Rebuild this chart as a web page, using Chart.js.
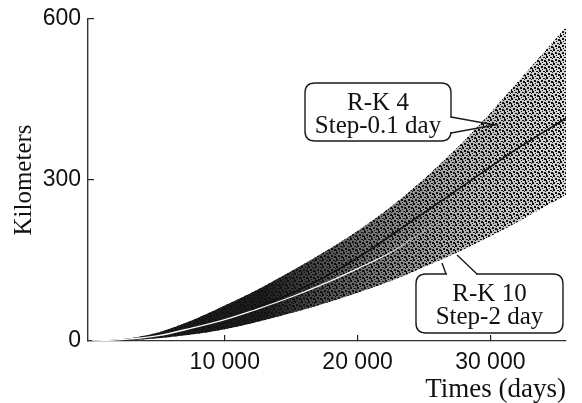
<!DOCTYPE html>
<html><head><meta charset="utf-8">
<script src="https://cdn.jsdelivr.net/npm/chart.js@4.4.1/dist/chart.umd.min.js"></script>
<style>html,body{margin:0;padding:0;background:#fff}#wrap{width:582px;height:403px}</style>
</head><body><div id="wrap"><canvas id="c" width="582" height="403"></canvas></div>
<script>
// ---- data ----
const bandDays = [0, 2500, 5000, 7500, 10000, 12500, 15000, 17500, 20000, 22500, 25000, 27500, 30000, 32500, 35700];
const upperKm  = [0, 4, 16, 38, 66, 96, 130, 166, 205, 250, 302, 360, 425, 495, 585];
const lowerKm  = [0, 1, 5, 12, 22, 36, 52, 70, 90, 112, 138, 165, 195, 228, 272];
const gapDays  = [0, 2500, 5000, 7500, 10000, 12500, 15000, 17500, 20000, 22500, 25000, 27000];
const gapKm    = [0, 3, 10, 24, 40, 60, 82, 107, 135, 165, 205, 238];
const centerDays = [12000, 16000, 20000, 24000, 28000, 32000, 35700];
const centerKm   = [58, 100, 155, 222, 290, 358, 415];
const xTickValues = [10000, 20000, 30000];
const yTickValues = [0, 300, 600];
const calloutTexts = [["R-K 4", "Step-0.1 day"], ["R-K 10", "Step-2 day"]];

const pts = (xs, ys) => xs.map((v, i) => ({x: v, y: ys[i]}));

// ---- callout geometry (in data units) ----
const callouts = [
  {text: calloutTexts[0], x0: 16043, x1: 27039, y0: 372.7, y1: 480.7,
   tail: 'wedge', a: [27039, 417.4], b: [27039, 387.6], tip: [30353, 402.5]},
  {text: calloutTexts[1], x0: 24402, x1: 35473, y0: 14.9, y1: 124.8,
   tail: 'lines', a: [26662, 124.8], b: [28997, 124.8], ea: [26361, 145.3], eb: [27491, 160.2]}
];

// stipple pattern for the band
const pc = document.createElement('canvas'); pc.width = 7; pc.height = 7;
const pctx = pc.getContext('2d'); pctx.fillStyle = '#111';
[[0,0,2,2],[4,1,2,1],[2,3,2,2],[5,4,2,2],[0,5,1,2],[3,6,1,1],[6,2,1,1]]
  .forEach(r => pctx.fillRect(...r));
const ctx = document.getElementById('c').getContext('2d');
const pattern = ctx.createPattern(pc, 'repeat');

function xGradient(chart, stops) {
  const xs = chart.scales.x;
  const g = chart.ctx.createLinearGradient(xs.getPixelForValue(0), 0, xs.getPixelForValue(35700), 0);
  stops.forEach(([o, c]) => g.addColorStop(o, c));
  return g;
}
function densityGradient(context) {
  const chart = context.chart;
  if (!chart.chartArea) return 'rgba(0,0,0,0)';
  return xGradient(chart, [[0, 'rgba(17,17,17,0.97)'], [0.36, 'rgba(17,17,17,0.95)'], [0.44, 'rgba(17,17,17,0.82)'],
    [0.61, 'rgba(17,17,17,0.55)'], [0.8, 'rgba(17,17,17,0.3)'], [1, 'rgba(17,17,17,0.16)']]);
}
function gapGradient(context) {
  const chart = context.chart;
  if (!chart.chartArea) return '#fff';
  return xGradient(chart, [[0, 'rgba(255,255,255,1)'], [0.6, 'rgba(255,255,255,0.95)'], [0.74, 'rgba(255,255,255,0)'], [1, 'rgba(255,255,255,0)']]);
}

function rr(c, x, y, w, h, r) {
  c.beginPath();
  c.moveTo(x + r, y); c.lineTo(x + w - r, y); c.quadraticCurveTo(x + w, y, x + w, y + r);
  c.lineTo(x + w, y + h - r); c.quadraticCurveTo(x + w, y + h, x + w - r, y + h);
  c.lineTo(x + r, y + h); c.quadraticCurveTo(x, y + h, x, y + h - r);
  c.lineTo(x, y + r); c.quadraticCurveTo(x, y, x + r, y); c.closePath();
}

const calloutPlugin = {
  id: 'callouts',
  afterDatasetsDraw(chart) {
    const c = chart.ctx, X = chart.scales.x, Y = chart.scales.y;
    const P = p => [X.getPixelForValue(p[0]), Y.getPixelForValue(p[1])];
    callouts.forEach(o => {
      const L = X.getPixelForValue(o.x0), R = X.getPixelForValue(o.x1);
      const T = Y.getPixelForValue(o.y1), B = Y.getPixelForValue(o.y0);
      c.save();
      c.lineWidth = 1.4; c.strokeStyle = '#1a1a1a'; c.fillStyle = '#fff';
      rr(c, L, T, R - L, B - T, 10); c.fill(); c.stroke();
      const a = P(o.a), b = P(o.b);
      if (o.tail === 'wedge') {
        const t = P(o.tip);
        c.fillRect(a[0] - 2, a[1] + 1, 4, b[1] - a[1] - 2);
        c.beginPath(); c.moveTo(a[0], a[1]); c.lineTo(t[0], t[1]); c.lineTo(b[0], b[1]); c.stroke();
      } else {
        c.fillRect(a[0] + 1, a[1] - 2, b[0] - a[0] - 2, 4);
        const ea = P(o.ea), eb = P(o.eb);
        c.beginPath(); c.moveTo(a[0], a[1]); c.lineTo(ea[0], ea[1]);
        c.moveTo(b[0], b[1]); c.lineTo(eb[0], eb[1]); c.stroke();
      }
      c.fillStyle = '#111';
      c.font = '25px "Liberation Serif", "Times New Roman", serif';
      c.textAlign = 'center'; c.textBaseline = 'alphabetic';
      c.fillText(o.text[0], (L + R) / 2, T + 27);
      c.fillText(o.text[1], (L + R) / 2, T + 50);
      c.restore();
    });
  }
};

const fmt = v => String(v).replace(/\B(?=(\d{3})+(?!\d))/g, ' ');

new Chart(ctx, {
  type: 'line',
  data: {
    datasets: [
      {data: pts(bandDays, lowerKm), borderWidth: 0, pointRadius: 0, fill: false, order: 5, cubicInterpolationMode: 'monotone'},
      {data: pts(bandDays, upperKm), borderWidth: 0, pointRadius: 0, fill: 0, backgroundColor: pattern, order: 4, cubicInterpolationMode: 'monotone'},
      {data: pts(bandDays, upperKm), borderWidth: 0, pointRadius: 0, fill: 0, backgroundColor: densityGradient, order: 3, cubicInterpolationMode: 'monotone'},
      {data: pts(gapDays, gapKm), borderColor: gapGradient, borderWidth: 1.3, pointRadius: 0, fill: false, order: 2, cubicInterpolationMode: 'monotone'},
      {data: pts(centerDays, centerKm), borderColor: '#111', borderWidth: 1.6, pointRadius: 0, fill: false, order: 1, cubicInterpolationMode: 'monotone'}
    ]
  },
  options: {
    responsive: false, animation: false, devicePixelRatio: 1,
    layout: {padding: {left: 4, top: 19, right: 16, bottom: 0}},
    plugins: {legend: {display: false}, tooltip: {enabled: false}},
    scales: {
      x: {
        type: 'linear', min: -300, max: 35700,
        afterBuildTicks: s => { s.ticks = xTickValues.map(v => ({value: v})); },
        afterFit: s => { s.height = 62; },
        grid: {drawOnChartArea: false, drawTicks: true, tickLength: -6, color: '#222', lineWidth: 1.2},
        border: {display: true, color: '#333', width: 1.2},
        ticks: {padding: 14, color: '#111', font: {family: '"Liberation Sans", Arial, sans-serif', size: 23}, callback: v => fmt(v), maxRotation: 0},
        title: {display: true, text: 'Times (days)', align: 'end', color: '#111', padding: {top: 0, bottom: 0},
                font: {family: '"Liberation Serif", "Times New Roman", serif', size: 27, lineHeight: 1}}
      },
      y: {
        type: 'linear', min: 0, max: 600,
        afterBuildTicks: s => { s.ticks = yTickValues.map(v => ({value: v})); },
        afterFit: s => { s.width = 84; s.paddingTop = 0; s.paddingBottom = 0; },
        grid: {drawOnChartArea: false, drawTicks: true, tickLength: -6, color: '#222', lineWidth: 1.2},
        border: {display: true, color: '#333', width: 1.4},
        ticks: {padding: 13, color: '#111', font: {family: '"Liberation Sans", Arial, sans-serif', size: 23}},
        title: {display: true, text: 'Kilometers', color: '#111', padding: {top: 8, bottom: 0},
                font: {family: '"Liberation Serif", "Times New Roman", serif', size: 25, lineHeight: 1}}
      }
    }
  },
  plugins: [calloutPlugin]
});
</script></body></html>
